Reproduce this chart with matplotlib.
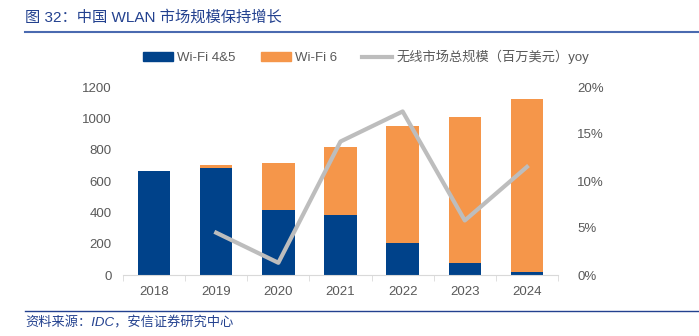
import matplotlib
matplotlib.use("Agg")
import matplotlib.pyplot as plt
from matplotlib.lines import Line2D
from matplotlib.patches import Patch
import numpy as np

plt.rcParams['font.family'] = ['Liberation Sans', 'Noto Sans CJK SC']

years = ['2018', '2019', '2020', '2021', '2022', '2023', '2024']
wifi45 = [667, 682, 418, 386, 202, 79, 17]
wifi6 = [0, 18, 294, 429, 751, 928, 1105]
yoy_years = ['2019', '2020', '2021', '2022', '2023', '2024']
yoy = [4.5, 1.3, 14.2, 17.4, 5.8, 11.5]

blue = '#00428A'
orange = '#F5964A'
gray = '#BDBDBD'
text_gray = '#595959'
title_blue = '#23418F'

fig = plt.figure(figsize=(6.99, 3.36), dpi=100)
ax = fig.add_axes([123 / 699, 1 - 275 / 336, 435 / 699, 188 / 336])
ax2 = ax.twinx()

x = np.arange(len(years))
ax.bar(x, wifi45, width=0.52, color=blue, zorder=2)
ax.bar(x, wifi6, width=0.52, bottom=wifi45, color=orange, zorder=2)

xl = [years.index(y) for y in yoy_years]
ax2.plot(xl, yoy, color=gray, lw=3, zorder=3)

ax.set_xlim(-0.5, len(years) - 0.5)
ax.set_ylim(0, 1200)
ax.set_yticks(range(0, 1201, 200))
ax2.set_ylim(0, 20)
ax2.set_yticks(range(0, 21, 5))
ax2.set_yticklabels([f'{v}%' for v in range(0, 21, 5)])

ax.set_xticks(x)
ax.set_xticklabels(years)
ax.set_xticks(np.arange(-0.5, len(years), 1), minor=True)
ax.tick_params(axis='x', which='major', length=0, pad=8, labelsize=9.5, colors=text_gray)
ax.tick_params(axis='x', which='minor', length=4, color='#D9D9D9', direction='out')
ax.tick_params(axis='y', length=0, labelsize=9.5, colors=text_gray, pad=8)
ax2.tick_params(axis='y', length=0, labelsize=9.5, colors=text_gray, pad=14)

for a in (ax, ax2):
    for s in ('top', 'left', 'right'):
        a.spines[s].set_visible(False)
ax.spines['bottom'].set_color('#D9D9D9')
ax2.spines['bottom'].set_visible(False)

# legend
handles = [Patch(color=blue), Patch(color=orange), Line2D([0], [0], color=gray, lw=3)]
labels = ['Wi-Fi 4&5', 'Wi-Fi 6', '无线市场总规模（百万美元）yoy']
leg = fig.legend(handles, labels, loc='center left', bbox_to_anchor=(131 / 699, 1 - 57 / 336),
                 ncol=3, frameon=False, fontsize=9.5, handlelength=2.3, handleheight=0.6,
                 columnspacing=1.9, handletextpad=0.3)
for t in leg.get_texts():
    t.set_color(text_gray)

# title and source
fig.text(25 / 699, 1 - 17 / 336, '图 32：中国 WLAN 市场规模保持增长', color=title_blue,
         fontsize=11, va='center', ha='left')
fig.add_artist(Line2D([25 / 699, 1.0], [1 - 32 / 336] * 2, color='#4A6AB0', lw=1.5))
fig.add_artist(Line2D([25 / 699, 1.0], [1 - 311 / 336] * 2, color='#23418F', lw=1.0))
fig.text(25 / 699, 1 - 323 / 336, '资料来源：IDC，安信证券研究中心', color=title_blue,
         fontsize=9.5, va='center', ha='left', style='italic')

fig.savefig('out.png', dpi=100)
